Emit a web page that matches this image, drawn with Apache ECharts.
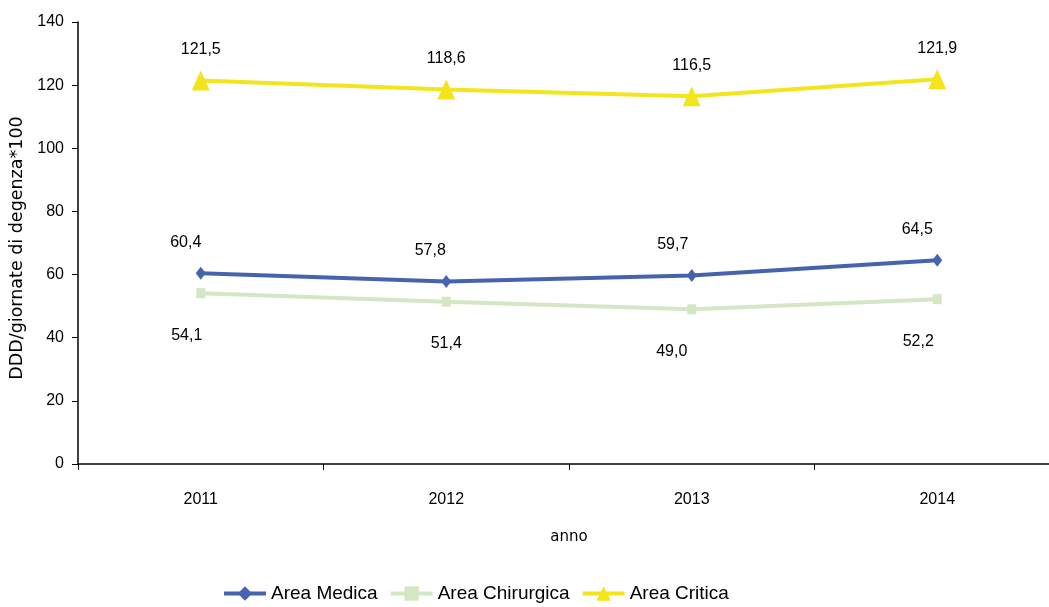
<!DOCTYPE html>
<html>
<head>
<meta charset="utf-8">
<script src="https://cdn.jsdelivr.net/npm/echarts@6/dist/echarts.min.js"></script>
<style>html,body{margin:0;padding:0;background:#fff;}#c{width:1049px;height:607px;}</style>
</head>
<body>
<div id="c"></div>
<script>
const categories = ['2011', '2012', '2013', '2014'];
const areaMedica = [60.4, 57.8, 59.7, 64.5];
const areaChirurgica = [54.1, 51.4, 49.0, 52.2];
const areaCritica = [121.5, 118.6, 116.5, 121.9];
const yTicks = [0, 20, 40, 60, 80, 100, 120, 140];

// label horizontal nudges (styling, not data)
const medicaLabelDx = [-15, -16, -19, -20];
const chirLabelDx = [-14, 0, -20, -19];

const FONT = '"Liberation Sans", Arial, sans-serif';
const WIDE = '"DejaVu Sans", sans-serif';
const fmt = p => p.value.toFixed(1).replace('.', ',');
const withDx = (vals, dx) => vals.map((v, i) => ({value: v, label: {offset: [dx[i], 0]}}));

const chart = echarts.init(document.getElementById('c'), null, {renderer: 'canvas'});
chart.setOption({
  backgroundColor: '#fff',
  animation: false,
  textStyle: {fontFamily: FONT},
  grid: {left: 78, width: 982, top: 22, bottom: 143, outerBoundsMode: 'none', containLabel: false},
  legend: {
    top: 584,
    left: 222,
    padding: 0,
    itemWidth: 42,
    itemHeight: 18,
    itemGap: 11,
    lineStyle: {width: 4},
    textStyle: {fontSize: 19, color: '#000', fontFamily: FONT},
    data: ['Area Medica', 'Area Chirurgica', 'Area Critica']
  },
  xAxis: {
    type: 'category',
    data: categories,
    boundaryGap: true,
    name: 'anno',
    nameLocation: 'middle',
    nameGap: 66,
    nameTextStyle: {fontSize: 15, color: '#000', fontFamily: WIDE},
    axisLine: {lineStyle: {color: '#000', width: 1.5}},
    axisTick: {show: true, length: 6, lineStyle: {color: '#000'}},
    axisLabel: {fontSize: 16, color: '#000', margin: 28}
  },
  yAxis: {
    type: 'value',
    min: yTicks[0],
    max: yTicks[yTicks.length - 1],
    interval: 20,
    name: 'DDD/giornate di degenza*100',
    nameLocation: 'middle',
    nameGap: 49,
    nameTextStyle: {fontSize: 17.5, color: '#000', fontFamily: WIDE, padding: [0, 10, 0, 0]},
    axisLine: {show: true, lineStyle: {color: '#000', width: 1.5}},
    axisTick: {show: true, length: 6, lineStyle: {color: '#000'}},
    axisLabel: {fontSize: 16, color: '#000', margin: 14},
    splitLine: {show: false}
  },
  series: [
    {
      name: 'Area Medica',
      type: 'line',
      data: withDx(areaMedica, medicaLabelDx),
      symbol: 'diamond',
      symbolSize: [10, 13],
      color: '#4663AE',
      lineStyle: {width: 4, color: '#4663AE'},
      itemStyle: {color: '#4663AE'},
      label: {show: true, position: 'top', distance: 16, fontSize: 16, color: '#000', formatter: fmt},
      z: 3
    },
    {
      name: 'Area Chirurgica',
      type: 'line',
      data: withDx(areaChirurgica, chirLabelDx),
      symbol: 'rect',
      symbolSize: [9, 10],
      color: '#D3E7C5',
      lineStyle: {width: 4, color: '#D3E7C5'},
      itemStyle: {color: '#D3E7C5'},
      label: {show: true, position: 'bottom', distance: 29, fontSize: 16, color: '#000', formatter: fmt},
      z: 2
    },
    {
      name: 'Area Critica',
      type: 'line',
      data: areaCritica,
      symbol: 'triangle',
      symbolSize: [18, 20],
      color: '#F4E41C',
      lineStyle: {width: 4, color: '#F4E41C'},
      itemStyle: {color: '#F4E41C'},
      label: {show: true, position: 'top', distance: 13, fontSize: 16, color: '#000', formatter: fmt},
      z: 4
    }
  ]
});
</script>
</body>
</html>
